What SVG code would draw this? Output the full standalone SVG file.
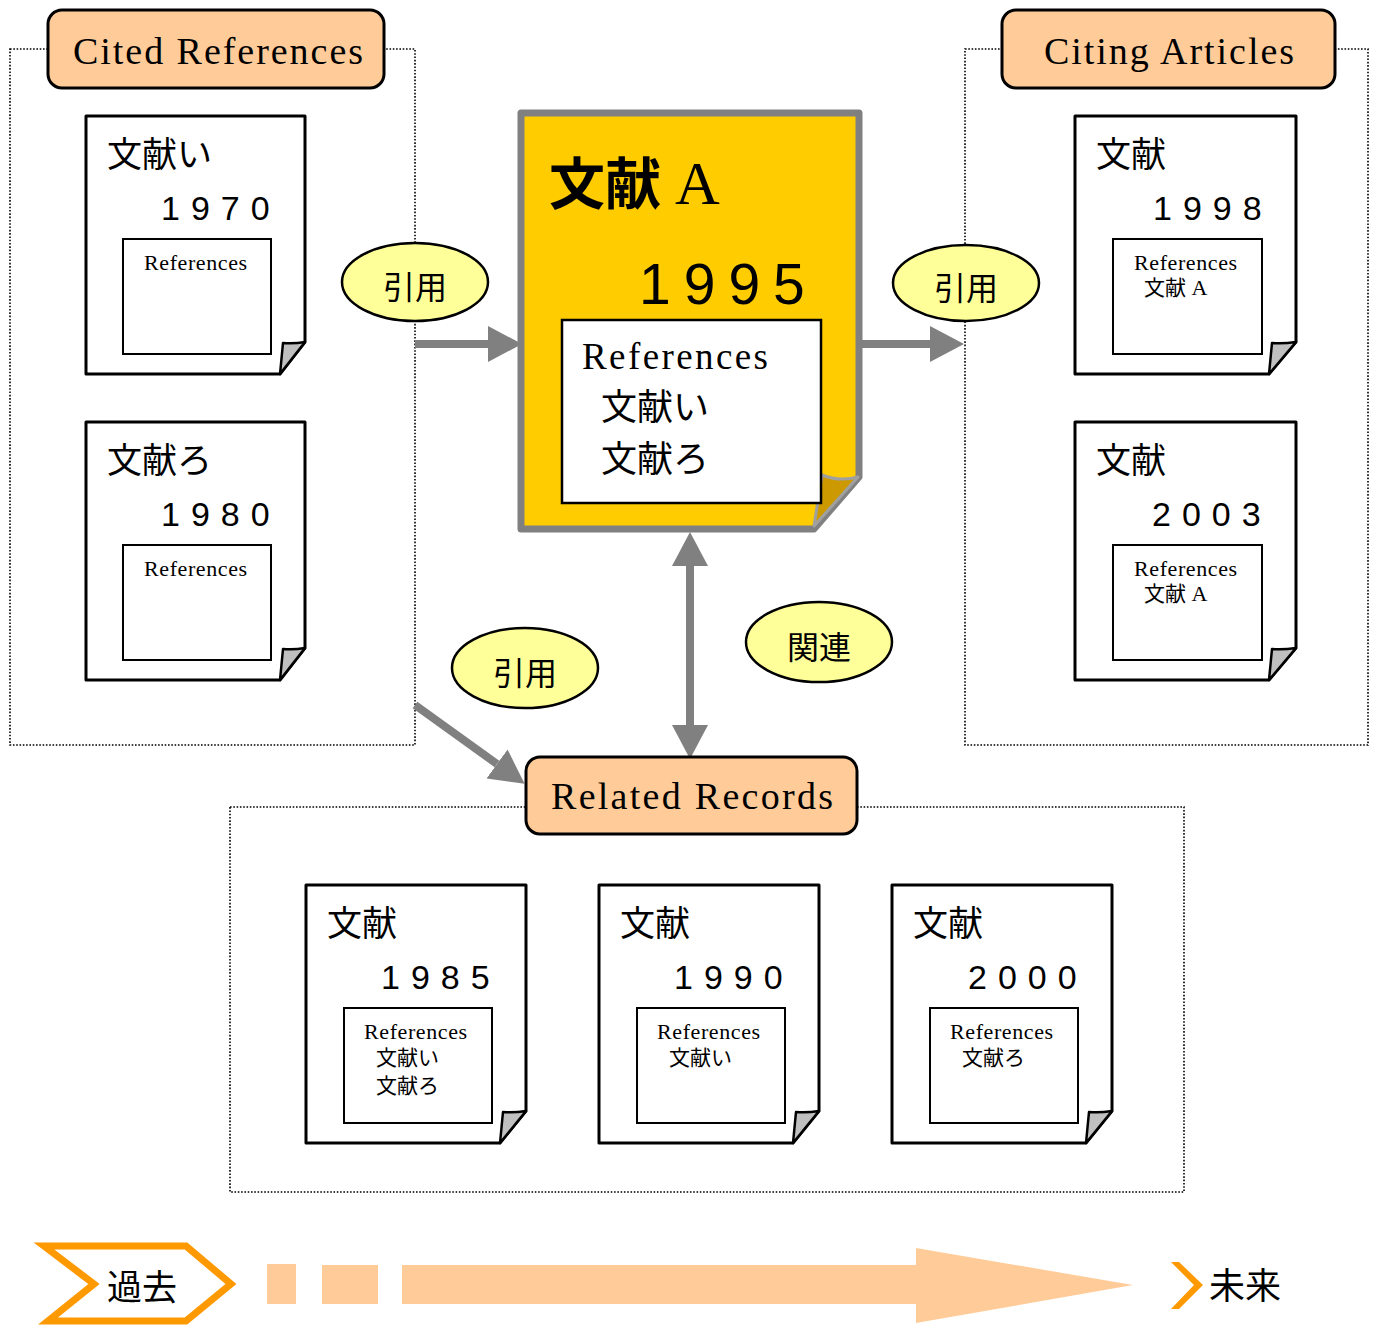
<svg xmlns="http://www.w3.org/2000/svg" width="1377" height="1325" viewBox="0 0 1377 1325">
  <style>
    .dot { fill: none; stroke: #000; stroke-width: 1.6; stroke-dasharray: 1.6 1.7; }
    .label { fill: #FFCC99; stroke: #000; stroke-width: 3; }
    .page { fill: #fff; stroke: #000; stroke-width: 3; stroke-linejoin: round; }
    .flap { fill: #C0C0C0; stroke: #000; stroke-width: 2.5; stroke-linejoin: round; }
    .refbox { fill: #fff; stroke: #000; stroke-width: 2; }
    .bubble { fill: #FFFF99; stroke: #000; stroke-width: 2.5; }
    .conn { fill: none; stroke: #808080; stroke-width: 8; }
    .jp { font-family: "Noto Sans CJK JP", "Noto Sans", sans-serif; fill: #000; }
    .serif { font-family: "Liberation Serif", "Noto Sans CJK JP", serif; fill: #000; }
    .num { font-family: "Liberation Sans", sans-serif; font-size: 34px; letter-spacing: 11px; }
    .ttl { font-size: 35px; }
    .rf { font-size: 22px; letter-spacing: 0.6px; }
    .li { font-size: 21px; }
    .head { font-size: 38px; }
    .bub { font-size: 32px; text-anchor: middle; }
    .tl { fill: #FFCC99; }
  </style>
  <defs>
    <marker id="arrow" markerUnits="userSpaceOnUse" markerWidth="36" markerHeight="38"
            refX="0" refY="19" orient="auto-start-reverse" viewBox="0 0 36 38">
      <path d="M0,1 L34,19 L0,37 Z" fill="#808080"/>
    </marker>
  </defs>

  <!-- dotted group frames -->
  <g id="frames">
    <rect class="dot" x="10" y="49" width="405" height="696"/>
    <rect class="dot" x="965" y="49" width="403" height="696"/>
    <rect class="dot" x="230" y="807" width="954" height="385"/>
  </g>

  <!-- connectors -->
  <g id="connectors">
    <line class="conn" x1="415" y1="344" x2="488" y2="344" marker-end="url(#arrow)"/>
    <line class="conn" x1="860" y1="344" x2="930" y2="344" marker-end="url(#arrow)"/>
    <line class="conn" x1="690" y1="566" x2="690" y2="725" marker-start="url(#arrow)" marker-end="url(#arrow)"/>
    <line class="conn" x1="415" y1="705" x2="497" y2="764" marker-end="url(#arrow)"/>
  </g>

  <!-- group headers -->
  <g id="hdr-cited">
    <rect class="label" x="48" y="10" width="336" height="78" rx="14"/>
    <text class="serif head" x="73" y="64" textLength="290" lengthAdjust="spacing">Cited References</text>
  </g>
  <g id="hdr-citing">
    <rect class="label" x="1002" y="10" width="333" height="78" rx="14"/>
    <text class="serif head" x="1044" y="64" textLength="250" lengthAdjust="spacing">Citing Articles</text>
  </g>
  <g id="hdr-related">
    <rect class="label" x="526" y="757" width="331" height="77" rx="14"/>
    <text class="serif head" x="551" y="809" textLength="282" lengthAdjust="spacing">Related Records</text>
  </g>

  <!-- central document -->
  <g id="doc-a">
    <path d="M521,113 H859 V477 L814,529 H521 Z" fill="#FFCC00" stroke="#808080" stroke-width="7" stroke-linejoin="round"/>
    <path d="M814,526 L822,475 Q840,482 858,477 Z" fill="#CC9900" stroke="#A0A0A0" stroke-width="3" stroke-linejoin="round"/>
    <text class="jp" x="549" y="204" font-size="56" font-weight="bold">文献</text>
    <text class="serif" x="675" y="204" font-size="62">A</text>
    <text font-family="Liberation Sans, sans-serif" x="639" y="304" font-size="57" letter-spacing="13">1995</text>
    <rect x="562" y="320" width="259" height="183" fill="#fff" stroke="#000" stroke-width="2.5"/>
    <text class="serif" x="582" y="369" font-size="37" textLength="186" lengthAdjust="spacing">References</text>
    <text class="jp" x="601" y="420" font-size="36">文献い</text>
    <text class="jp" x="601" y="472" font-size="36">文献ろ</text>
  </g>

  <!-- cited documents -->
  <g id="doc-i" transform="translate(86,116)">
    <path class="page" d="M0,0H219V226L194,258H0Z"/>
    <path class="flap" d="M194,258L197,227Q208,228 219,226Z"/>
    <rect class="refbox" x="37" y="123" width="148" height="115"/>
    <text class="jp ttl" x="21" y="51">文献い</text>
    <text class="num" x="75" y="104">1970</text>
    <text class="serif rf" x="58" y="154">References</text>
  </g>
  <g id="doc-ro" transform="translate(86,422)">
    <path class="page" d="M0,0H219V226L194,258H0Z"/>
    <path class="flap" d="M194,258L197,227Q208,228 219,226Z"/>
    <rect class="refbox" x="37" y="123" width="148" height="115"/>
    <text class="jp ttl" x="21" y="51">文献ろ</text>
    <text class="num" x="75" y="104">1980</text>
    <text class="serif rf" x="58" y="154">References</text>
  </g>

  <!-- citing documents -->
  <g id="doc-1998" transform="translate(1075,116)">
    <path class="page" d="M0,0H221V226L194,258H0Z"/>
    <path class="flap" d="M194,258L197,227Q208,228 221,226Z"/>
    <rect class="refbox" x="38" y="123" width="149" height="115"/>
    <text class="jp ttl" x="21" y="51">文献</text>
    <text class="num" x="78" y="104">1998</text>
    <text class="serif rf" x="59" y="154">References</text>
    <text class="jp li" x="69" y="179">文献<tspan class="serif" font-size="22"> A</tspan></text>
  </g>
  <g id="doc-2003" transform="translate(1075,422)">
    <path class="page" d="M0,0H221V226L194,258H0Z"/>
    <path class="flap" d="M194,258L197,227Q208,228 221,226Z"/>
    <rect class="refbox" x="38" y="123" width="149" height="115"/>
    <text class="jp ttl" x="21" y="51">文献</text>
    <text class="num" x="77" y="104">2003</text>
    <text class="serif rf" x="59" y="154">References</text>
    <text class="jp li" x="69" y="179">文献<tspan class="serif" font-size="22"> A</tspan></text>
  </g>

  <!-- related records -->
  <g id="doc-1985" transform="translate(306,885)">
    <path class="page" d="M0,0H220V226L194,258H0Z"/>
    <path class="flap" d="M194,258L197,227Q208,228 220,226Z"/>
    <rect class="refbox" x="38" y="123" width="148" height="115"/>
    <text class="jp ttl" x="21" y="51">文献</text>
    <text class="num" x="75" y="104">1985</text>
    <text class="serif rf" x="58" y="154">References</text>
    <text class="jp li" x="70" y="180">文献い</text>
    <text class="jp li" x="70" y="208">文献ろ</text>
  </g>
  <g id="doc-1990" transform="translate(599,885)">
    <path class="page" d="M0,0H220V226L194,258H0Z"/>
    <path class="flap" d="M194,258L197,227Q208,228 220,226Z"/>
    <rect class="refbox" x="38" y="123" width="148" height="115"/>
    <text class="jp ttl" x="21" y="51">文献</text>
    <text class="num" x="75" y="104">1990</text>
    <text class="serif rf" x="58" y="154">References</text>
    <text class="jp li" x="70" y="180">文献い</text>
  </g>
  <g id="doc-2000" transform="translate(892,885)">
    <path class="page" d="M0,0H220V226L194,258H0Z"/>
    <path class="flap" d="M194,258L197,227Q208,228 220,226Z"/>
    <rect class="refbox" x="38" y="123" width="148" height="115"/>
    <text class="jp ttl" x="21" y="51">文献</text>
    <text class="num" x="76" y="104">2000</text>
    <text class="serif rf" x="58" y="154">References</text>
    <text class="jp li" x="70" y="180">文献ろ</text>
  </g>

  <!-- relation bubbles -->
  <g id="cite-in">
    <ellipse class="bubble" cx="415" cy="282" rx="73" ry="39"/>
    <text class="jp bub" x="415" y="299">引用</text>
  </g>
  <g id="cite-out">
    <ellipse class="bubble" cx="966" cy="283" rx="73" ry="38"/>
    <text class="jp bub" x="966" y="300">引用</text>
  </g>
  <g id="cite-related">
    <ellipse class="bubble" cx="525" cy="668" rx="73" ry="40"/>
    <text class="jp bub" x="525" y="685">引用</text>
  </g>
  <g id="related">
    <ellipse class="bubble" cx="819" cy="642" rx="73" ry="40"/>
    <text class="jp bub" x="819" y="659">関連</text>
  </g>

  <!-- timeline: past to future -->
  <g id="timeline">
    <path d="M44,1246 H186 L231,1284 L186,1321 H48 L94,1284 Z" fill="#fff" stroke="#FF9900" stroke-width="7" stroke-linejoin="miter"/>
    <text class="jp" x="107" y="1300" font-size="35">過去</text>
    <rect class="tl" x="267" y="1264" width="29" height="40"/>
    <rect class="tl" x="322" y="1265" width="56" height="39"/>
    <path class="tl" d="M402,1265 H916 V1248 L1133,1285 L916,1323 V1304 H402 Z"/>
    <path d="M1171,1262 H1179 L1203,1285 L1179,1309 H1171 L1194,1285 Z" fill="#FF9900"/>
    <text class="jp" x="1209" y="1299" font-size="36">未来</text>
  </g>
</svg>
